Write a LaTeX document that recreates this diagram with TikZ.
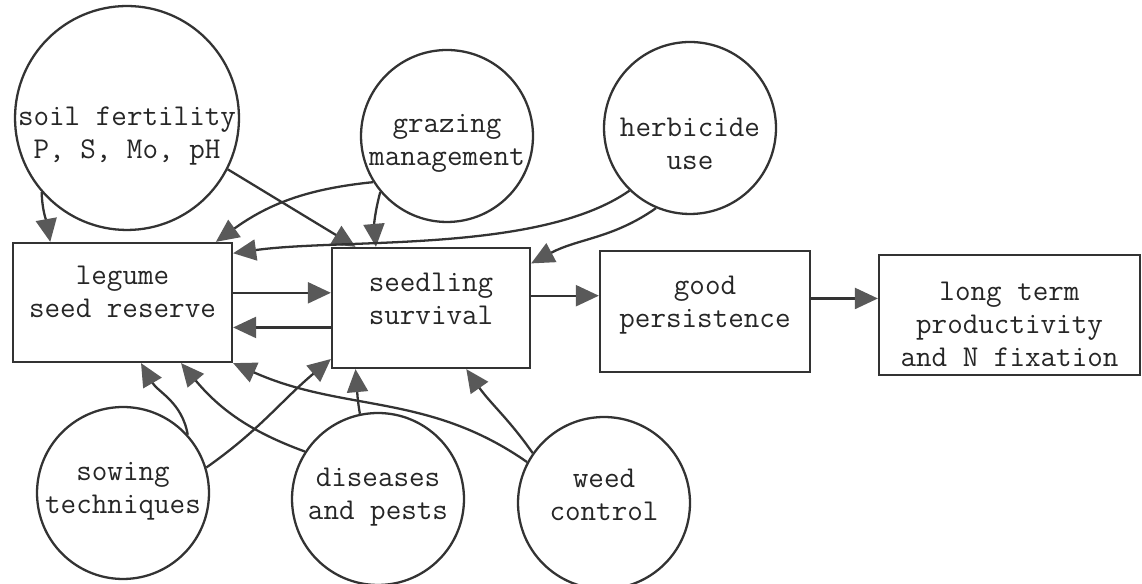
\documentclass[tikz,border=0pt]{standalone}
\usepackage{tikz}
\usetikzlibrary{arrows.meta}
\def\arr{\draw[-{Triangle[length=0.46cm,width=0.42cm,color=black!65]}]}
\tikzset{
  every node/.style={font=\fontsize{17.2}{18.8}\selectfont\ttfamily,text=black!85,align=center},
  factor/.style={circle,draw,inner sep=0pt,minimum size=3.44cm},
  stage/.style={rectangle,draw,inner sep=0pt},
}

\begin{document}
\begin{tikzpicture}[x=0.02cm,y=0.02cm,draw=black!80,line width=1.3pt]
  \useasboundingbox (0,0) rectangle (1142,584);
  % influences
  \node[factor,minimum size=4.48cm,label={[yshift=-0.36cm]center:{soil fertility\\P, S, Mo, pH}}] (soil) at (127,466) {};
  \node[factor,label={[yshift=-0.14cm]center:{grazing\\management}}] (graze) at (447,448) {};
  \node[factor,label={[yshift=-0.32cm]center:{herbicide\\use}}]      (herb)  at (690,456) {};
  \node[factor,label={[yshift=0.04cm]center:{sowing\\techniques}}]   (sow)   at (123, 91) {};
  \node[factor,label={[yshift=0.04cm]center:{diseases\\and pests}}]  (pest)  at (378, 85) {};
  \node[factor,label={[yshift=0.16cm]center:{weed\\control}}]        (weed)  at (604, 81) {};
  % chain
  \node[stage,minimum width=4.38cm,minimum height=2.38cm,label={[yshift=0.22cm]center:{legume\\seed reserve}}] (reserve)  at (122.5,281.5) {};
  \node[stage,minimum width=3.96cm,minimum height=2.4cm,label={[yshift=0.18cm]center:{seedling\\survival}}]     (seedling) at (431,276) {};
  \node[stage,minimum width=4.2cm,minimum height=2.42cm,label={[yshift=0.12cm]center:{good\\persistence}}]      (persist)  at (705,272.5) {};
  \node[stage,minimum width=5.22cm,minimum height=2.4cm,label={[yshift=-0.18cm]center:{long term\\productivity\\and N fixation}}] (yield) at (1009.5,269) {};

  \arr (soil.-139)    to[out=-88,in=100]  (reserve.140.6);
  \arr (soil.-27.7)   --                  (seedling.141.3);
  \arr (graze.-148)   to[bend right=15]   (reserve.33.8);
  \arr (graze.-140)   to[out=-105,in=95]  (seedling.132.5);
  \arr (herb.-134)    to[out=-145,in=8,looseness=0.7] (reserve.24.2);
  \arr (herb.-113.6)  to[out=-145,in=28]  (seedling.24.9);

  \arr (reserve.5)    -- (reserve.5 -| seedling.west);
  \arr (seedling.191) -- (seedling.191 -| reserve.east);
  \arr (seedling.7)   -- (seedling.7 -| persist.west);
  \arr (persist.7)    -- (persist.7 -| yield.west);

  \arr (sow.42.7)     to[out=100,in=-60]  (reserve.-73.9);
  \arr (sow.17.2)     to[out=35,in=-140]  (seedling.-153.7);
  \arr (pest.147.8)   to[out=160,in=-50]  (reserve.-46);
  \arr (pest.102)     to[out=100,in=-85]  (seedling.-141);
  \arr (weed.145)     to[out=125,in=-55]  (seedling.-60.5);
  \arr (weed.152.5)   to[out=145,in=-24]  (reserve.south east);
\end{tikzpicture}
\end{document}
